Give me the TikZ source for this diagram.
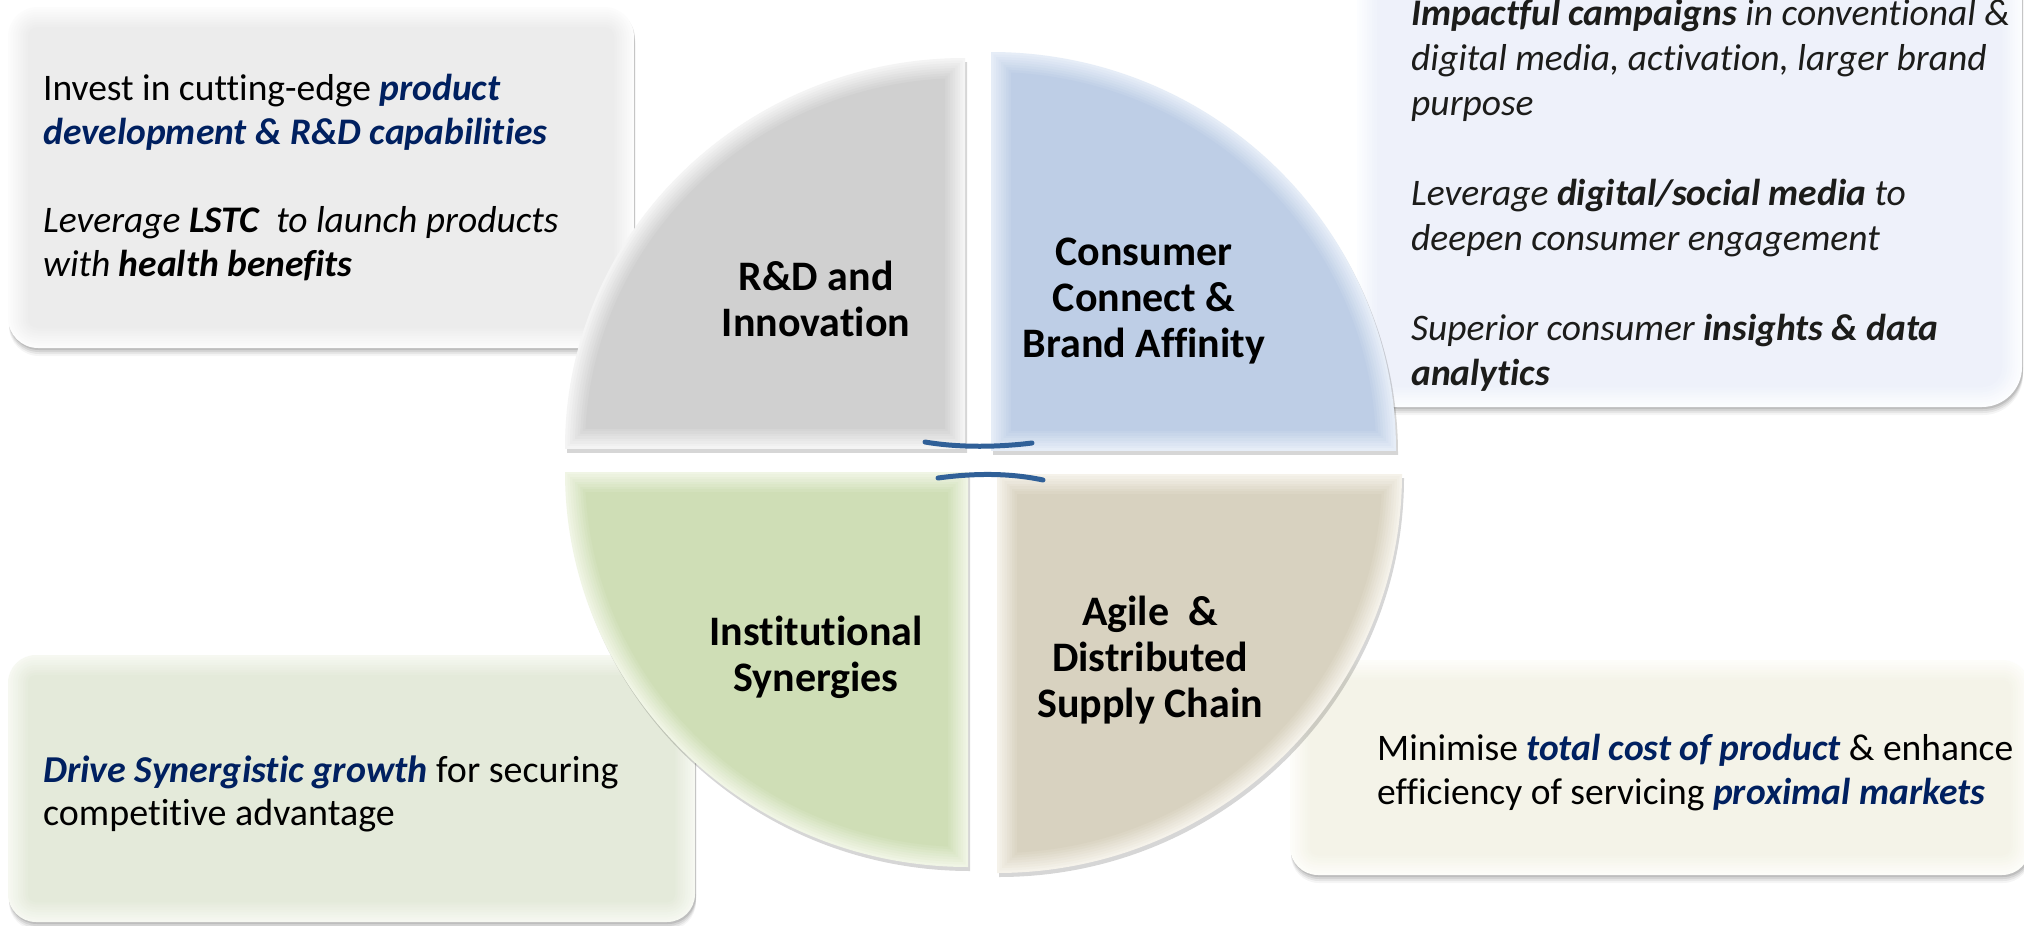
\documentclass[tikz,border=0pt]{standalone}
\usepackage{fontspec}
\setmainfont{Carlito}[Ligatures=NoCommon]
\definecolor{navytxt}{HTML}{002060}
\definecolor{inktxt}{HTML}{1C1C1A}
\definecolor{linkblue}{RGB}{48,96,152}
% quadrant colours
\definecolor{qgray}{RGB}{208,208,208}   \definecolor{qgrayE}{RGB}{244,244,244}
\definecolor{qblue}{RGB}{190,206,230}   \definecolor{qblueE}{RGB}{230,237,247}
\definecolor{qgreen}{RGB}{207,222,182}  \definecolor{qgreenE}{RGB}{240,245,229}
\definecolor{qsand}{RGB}{216,210,192}   \definecolor{qsandE}{RGB}{245,242,234}
% text box colours
\definecolor{bgray}{RGB}{236,236,236}   \definecolor{bgrayE}{RGB}{252,252,252}
\definecolor{bblue}{RGB}{238,241,250}   \definecolor{bblueE}{RGB}{252,253,255}
\definecolor{bgreen}{RGB}{228,234,218}  \definecolor{bgreenE}{RGB}{246,248,241}
\definecolor{bsand}{RGB}{244,243,232}   \definecolor{bsandE}{RGB}{253,253,249}

% rounded box with a soft bevelled rim: x1 y1 x2 y2 radius main rim
\newcommand{\bevelrect}[7]{%
  \foreach \s/\o in {2/0.10,4/0.08,6/0.06,8/0.04}{%
    \fill[black,opacity=\o,rounded corners=#5pt] (#1+1,#2+\s) rectangle (#3+1,#4+\s);
  }%
  \foreach \k in {0,...,8}{%
    \pgfmathsetmacro{\dd}{\k*2.5}%
    \pgfmathtruncatemacro{\pp}{\k*12.5}%
    \pgfmathsetmacro{\rr}{max(#5-\k*2.5,2)}%
    \fill[#6!\pp!#7,rounded corners=\rr pt] (#1+\dd,#2+\dd) rectangle (#3-\dd,#4-\dd);
  }%
}
% quarter ellipse with bevelled rim: cx cy sx sy rx ry main rim
\newcommand{\bevelquad}[8]{%
  \begin{scope}
    \pgfmathsetmacro{\bx}{#1+(#3)*700}%
    \pgfmathsetmacro{\by}{#2+(#4)*700}%
    \clip (#1+2,#2+4) rectangle (\bx+2,\by+4);
    \fill[black,opacity=0.16] (#1+2,#2+4) ellipse [x radius=#5pt, y radius=#6pt];
  \end{scope}
  \foreach \k in {0,...,8}{%
    \pgfmathsetmacro{\dd}{\k*2.5}%
    \pgfmathtruncatemacro{\pp}{\k*12.5}%
    \pgfmathsetmacro{\ax}{#1+(#3)*\dd}%
    \pgfmathsetmacro{\ay}{#2+(#4)*\dd}%
    \pgfmathsetmacro{\bx}{#1+(#3)*700}%
    \pgfmathsetmacro{\by}{#2+(#4)*700}%
    \pgfmathsetmacro{\rxx}{#5-\dd}%
    \pgfmathsetmacro{\ryy}{#6-\dd}%
    \begin{scope}
      \clip (\ax,\ay) rectangle (\bx,\by);
      \fill[#7!\pp!#8] (#1,#2) ellipse [x radius=\rxx pt, y radius=\ryy pt];
    \end{scope}
  }%
}

\begin{document}
\begin{tikzpicture}[x=1pt,y=-1pt,
  boxtext/.style={inner sep=0pt,anchor=north west,align=left,
    font=\fontsize{37.5}{44}\selectfont},
  quadlabel/.style={inner sep=0pt,anchor=north,align=center,
    font=\fontsize{42}{46}\selectfont\bfseries},
  linkarc/.style={draw=linkblue,line width=5pt,line cap=round}]
\useasboundingbox (0,0) rectangle (2024,926);
\clip (0,0) rectangle (2024,926);
\fill[white] (0,0) rectangle (2024,926);

% text boxes (behind the wheel)
\bevelrect{8}{7}{634}{348}{30}{bgray}{bgrayE}
\bevelrect{1357}{-60}{2022}{407}{40}{bblue}{bblueE}
\bevelrect{8}{655}{695}{922}{28}{bgreen}{bgreenE}
\bevelrect{1290}{660}{2030}{875}{28}{bsand}{bsandE}

% the four quarters of the wheel
\bevelquad{965}{448}{-1}{-1}{400}{390}{qgray}{qgrayE}
\bevelquad{991}{450}{1}{-1}{405}{398}{qblue}{qblueE}
\bevelquad{968}{472}{-1}{1}{403}{395}{qgreen}{qgreenE}
\bevelquad{997}{474}{1}{1}{405}{399}{qsand}{qsandE}

% quarter labels
\node[quadlabel] (rdlab) at (816,258.5) {\strut R\&D and\\\strut Innovation};
\node[quadlabel] (cclab) at (1144,233.5) {\strut Consumer\\\strut Connect \&\\\strut Brand Affinity};
\node[quadlabel] (islab) at (816,613.5) {\strut Institutional\\\strut Synergies};
\node[quadlabel] (sclab) at (1150,593.5) {\strut Agile\ \ \&\\\strut Distributed\\\strut Supply Chain};

% box texts
\node[boxtext] (rdtext) at (43,69) {%
  \strut Invest in cutting-edge {\color{navytxt}\bfseries\itshape product}\\
  \strut{\color{navytxt}\bfseries\itshape development \& R\&D capabilities}\\
  \strut\\
  \strut{\itshape Leverage \textbf{LSTC}\ \ to launch products}\\
  \strut{\itshape with \textbf{health benefits}}};
\node[boxtext,font=\fontsize{37.5}{45}\selectfont,text=inktxt] (cctext) at (1411,-6) {%
  \strut{\itshape\textbf{Impactful campaigns} in conventional \&}\\
  \strut{\itshape digital media, activation, larger brand}\\
  \strut{\itshape purpose}\\
  \strut\\
  \strut{\itshape Leverage \textbf{digital/social media} to}\\
  \strut{\itshape deepen consumer engagement}\\
  \strut\\
  \strut{\itshape Superior consumer \textbf{insights \& data}}\\
  \strut{\itshape\bfseries analytics}};
\node[boxtext,font=\fontsize{38}{43}\selectfont] (istext) at (43,752) {%
  \strut{\color{navytxt}\bfseries\itshape Drive Synergistic growth} for securing\\
  \strut competitive advantage};
\node[boxtext] (sctext) at (1377,729) {%
  \strut Minimise {\color{navytxt}\bfseries\itshape total cost of product} \& enhance\\
  \strut efficiency of servicing {\color{navytxt}\bfseries\itshape proximal markets}};

% the two link strokes at the hub
\coordinate (ua) at (925,442);
\coordinate (ub) at (1032,443);
\coordinate (la) at (938,478);
\coordinate (lb) at (1043,480);
\draw[linkarc] (ua) .. controls (960,448) and (1000,447) .. (ub);
\draw[linkarc] (la) .. controls (975,473) and (1010,473) .. (lb);
\end{tikzpicture}
\end{document}
